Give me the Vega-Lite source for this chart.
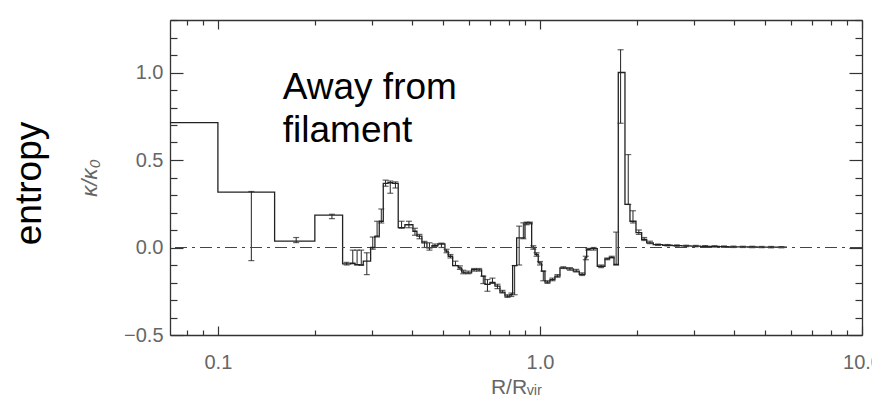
{
  "$schema": "https://vega.github.io/schema/vega-lite/v6.json",
  "width": 692,
  "height": 315,
  "autosize": {"type": "none"},
  "padding": {"left": 170, "top": 20, "right": 10, "bottom": 62},
  "background": "white",
  "config": {
    "view": {"stroke": null},
    "axis": {"grid": false, "domainColor": "#333", "tickColor": "#333", "domainWidth": 1.3, "tickWidth": 1.2, "labelColor": "#666", "labelFont": "Liberation Sans", "labelFontSize": 20, "titleFont": "Liberation Sans", "titleColor": "#666", "titleFontWeight": "normal", "labelOverlap": false, "labelFlush": false, "labelBound": false}
  },
  "title": {"text": "entropy", "orient": "left", "fontSize": 37, "font": "Liberation Sans", "fontWeight": "normal", "color": "#000", "offset": 30, "dx": -6},
  "datasets": {
    "steps": [{"r":0.05,"v":0.714},{"r":0.1,"v":0.316},{"r":0.15,"v":0.036},{"r":0.2,"v":0.185},{"r":0.2439,"v":-0.093},{"r":0.2583,"v":-0.09},{"r":0.2664,"v":-0.098},{"r":0.2747,"v":-0.1},{"r":0.2827,"v":-0.078},{"r":0.298,"v":0.0},{"r":0.3073,"v":0.065},{"r":0.317,"v":0.15},{"r":0.3262,"v":0.366},{"r":0.3373,"v":0.37},{"r":0.3487,"v":0.366},{"r":0.363,"v":0.114},{"r":0.3808,"v":0.13},{"r":0.4033,"v":0.093},{"r":0.415,"v":0.065},{"r":0.43,"v":0.027},{"r":0.4457,"v":-0.002},{"r":0.462,"v":0.011},{"r":0.4823,"v":0.02},{"r":0.5069,"v":-0.021},{"r":0.519,"v":-0.05},{"r":0.5356,"v":-0.103},{"r":0.5575,"v":-0.116},{"r":0.5712,"v":-0.141},{"r":0.5849,"v":-0.145},{"r":0.6135,"v":-0.126},{"r":0.6358,"v":-0.128},{"r":0.659,"v":-0.164},{"r":0.6748,"v":-0.211},{"r":0.6995,"v":-0.2},{"r":0.7249,"v":-0.221},{"r":0.7513,"v":-0.255},{"r":0.7786,"v":-0.278},{"r":0.8069,"v":-0.269},{"r":0.8226,"v":-0.103},{"r":0.8466,"v":0.055},{"r":0.8775,"v":0.055},{"r":0.8985,"v":0.141},{"r":0.9198,"v":0.141},{"r":0.9424,"v":0.0},{"r":0.9649,"v":-0.04},{"r":0.9879,"v":-0.088},{"r":1.0122,"v":-0.135},{"r":1.0364,"v":-0.198},{"r":1.0741,"v":-0.183},{"r":1.1132,"v":-0.164},{"r":1.1538,"v":-0.116},{"r":1.2103,"v":-0.122},{"r":1.2687,"v":-0.135},{"r":1.3243,"v":-0.154},{"r":1.3797,"v":-0.059},{"r":1.3964,"v":-0.011},{"r":1.4299,"v":-0.006},{"r":1.5066,"v":-0.107},{"r":1.5918,"v":-0.065},{"r":1.6438,"v":-0.056},{"r":1.6979,"v":-0.097},{"r":1.7508,"v":1.0},{"r":1.8365,"v":0.246},{"r":1.9033,"v":0.15},{"r":1.987,"v":0.085},{"r":2.0694,"v":0.046},{"r":2.1449,"v":0.027},{"r":2.2485,"v":0.016},{"r":2.405,"v":0.013},{"r":2.573,"v":0.011},{"r":2.752,"v":0.009},{"r":2.944,"v":0.008},{"r":3.149,"v":0.007},{"r":3.369,"v":0.006},{"r":3.604,"v":0.005},{"r":3.855,"v":0.004},{"r":4.124,"v":0.0035},{"r":4.411,"v":0.003},{"r":4.719,"v":0.0025},{"r":5.048,"v":0.002},{"r":5.4,"v":0.0015},{"r":5.848,"v":0.0015}],
    "errs": [{"r":0.127,"lo":-0.075,"hi":0.32},{"r":0.175,"lo":0.028,"hi":0.057},{"r":0.226,"lo":0.165,"hi":0.19},{"r":0.251,"lo":-0.1,"hi":-0.085},{"r":0.2623,"lo":-0.093,"hi":-0.015},{"r":0.2705,"lo":-0.1,"hi":-0.015},{"r":0.2787,"lo":-0.1,"hi":-0.015},{"r":0.29,"lo":-0.155,"hi":-0.03},{"r":0.3026,"lo":-0.01,"hi":0.06},{"r":0.3121,"lo":0.06,"hi":0.15},{"r":0.3216,"lo":0.14,"hi":0.22},{"r":0.3317,"lo":0.35,"hi":0.385},{"r":0.3429,"lo":0.31,"hi":0.38},{"r":0.3558,"lo":0.34,"hi":0.375},{"r":0.3718,"lo":0.11,"hi":0.15},{"r":0.3919,"lo":0.113,"hi":0.15},{"r":0.4091,"lo":0.07,"hi":0.11},{"r":0.4225,"lo":0.05,"hi":0.075},{"r":0.4378,"lo":0.0,"hi":0.035},{"r":0.4538,"lo":-0.015,"hi":0.027},{"r":0.472,"lo":0.005,"hi":0.02},{"r":0.4944,"lo":0.0,"hi":0.025},{"r":0.5129,"lo":-0.03,"hi":-0.01},{"r":0.5272,"lo":-0.06,"hi":-0.04},{"r":0.5465,"lo":-0.103,"hi":-0.078},{"r":0.5643,"lo":-0.125,"hi":-0.105},{"r":0.578,"lo":-0.15,"hi":-0.13},{"r":0.599,"lo":-0.15,"hi":-0.135},{"r":0.6245,"lo":-0.135,"hi":-0.12},{"r":0.6473,"lo":-0.135,"hi":-0.12},{"r":0.6669,"lo":-0.206,"hi":-0.164},{"r":0.687,"lo":-0.25,"hi":-0.183},{"r":0.7121,"lo":-0.205,"hi":-0.175},{"r":0.738,"lo":-0.235,"hi":-0.21},{"r":0.7648,"lo":-0.26,"hi":-0.245},{"r":0.7926,"lo":-0.285,"hi":-0.27},{"r":0.8147,"lo":-0.28,"hi":-0.26},{"r":0.8345,"lo":-0.27,"hi":-0.103},{"r":0.8619,"lo":-0.1,"hi":0.122},{"r":0.8879,"lo":0.05,"hi":0.141},{"r":0.9091,"lo":0.13,"hi":0.145},{"r":0.931,"lo":0.135,"hi":0.145},{"r":0.9536,"lo":-0.01,"hi":0.01},{"r":0.9763,"lo":-0.05,"hi":-0.03},{"r":1.0,"lo":-0.1,"hi":-0.08},{"r":1.0242,"lo":-0.19,"hi":-0.135},{"r":1.0551,"lo":-0.205,"hi":-0.19},{"r":1.0935,"lo":-0.19,"hi":-0.175},{"r":1.1333,"lo":-0.17,"hi":-0.155},{"r":1.1817,"lo":-0.12,"hi":-0.11},{"r":1.2391,"lo":-0.13,"hi":-0.115},{"r":1.2962,"lo":-0.14,"hi":-0.125},{"r":1.3518,"lo":-0.16,"hi":-0.145},{"r":1.388,"lo":-0.07,"hi":-0.05},{"r":1.413,"lo":-0.015,"hi":-0.005},{"r":1.4677,"lo":-0.015,"hi":0.0},{"r":1.5486,"lo":-0.115,"hi":-0.1},{"r":1.6177,"lo":-0.07,"hi":-0.06},{"r":1.6706,"lo":-0.06,"hi":-0.05},{"r":1.7241,"lo":-0.1,"hi":0.088},{"r":1.78,"lo":0.71,"hi":1.13},{"r":1.88,"lo":0.246,"hi":0.531},{"r":1.9447,"lo":0.14,"hi":0.21},{"r":2.0278,"lo":0.075,"hi":0.1},{"r":2.1068,"lo":0.04,"hi":0.057},{"r":2.196,"lo":0.022,"hi":0.036},{"r":2.325,"lo":0.012,"hi":0.02},{"r":2.488,"lo":0.009,"hi":0.017},{"r":2.661,"lo":0.007,"hi":0.015},{"r":2.846,"lo":0.005,"hi":0.013},{"r":3.045,"lo":0.004,"hi":0.012},{"r":3.257,"lo":0.003,"hi":0.011},{"r":3.485,"lo":0.002,"hi":0.01},{"r":3.728,"lo":0.001,"hi":0.009},{"r":3.987,"lo":0.0,"hi":0.008},{"r":4.265,"lo":0.0,"hi":0.007},{"r":4.562,"lo":-0.001,"hi":0.007},{"r":4.881,"lo":-0.001,"hi":0.006},{"r":5.221,"lo":-0.002,"hi":0.006},{"r":5.62,"lo":-0.002,"hi":0.005}],
    "notes": [{"r":0.159,"v":0.846,"label":"Away from\nfilament"}]
  },
  "layer": [
    {
      "data": {"name": "steps"},
      "mark": {"type": "line", "interpolate": "step-after", "color": "#222", "strokeWidth": 1.3, "clip": true},
      "encoding": {
        "x": {"field": "r", "type": "quantitative",
              "scale": {"type": "log", "domain": [0.071, 10], "nice": false},
              "axis": {"orient": "bottom",
                       "values": [0.08,0.09,0.1,0.2,0.3,0.4,0.5,0.6,0.7,0.8,0.9,1,2,3,4,5,6,7,8,9,10],
                       "labelExpr": "datum.value==0.1?'0.1':datum.value==1?'1.0':datum.value==10?'10.0':''",
                       "tickSize": {"condition": {"test": "datum.value==0.1||datum.value==1||datum.value==10", "value": -9}, "value": -5},
                       "labelPadding": 26, "labelBaseline": "top",
                       "title": "R/Rᵥᵢᵣ", "titleFontSize": 21, "titlePadding": 0}},
        "y": {"field": "v", "type": "quantitative",
              "scale": {"domain": [-0.5, 1.3], "nice": false, "zero": false},
              "axis": {"orient": "left",
                       "values": [-0.5,-0.4,-0.3,-0.2,-0.1,0,0.1,0.2,0.3,0.4,0.5,0.6,0.7,0.8,0.9,1,1.1,1.2,1.3],
                       "labelExpr": "datum.value==-0.5?'−0.5':datum.value==0?'0.0':datum.value==0.5?'0.5':datum.value==1?'1.0':''",
                       "tickSize": {"condition": {"test": "datum.value==-0.5||datum.value==0||datum.value==0.5||datum.value==1", "value": -13}, "value": -7},
                       "labelPadding": 20,
                       "title": "κ/κ₀", "titleFontStyle": "italic", "titleFontSize": 22, "titlePadding": 22}}
      }
    },
    {
      "data": {"name": "errs"},
      "mark": {"type": "rule", "color": "#222", "strokeWidth": 1, "clip": true},
      "encoding": {
        "x": {"field": "r", "type": "quantitative",
              "scale": {"type": "log", "domain": [0.071, 10], "nice": false},
              "axis": {"orient": "top", "labels": false, "title": null,
                       "values": [0.08,0.09,0.1,0.2,0.3,0.4,0.5,0.6,0.7,0.8,0.9,1,2,3,4,5,6,7,8,9,10],
                       "tickSize": {"condition": {"test": "datum.value==0.1||datum.value==1||datum.value==10", "value": -9}, "value": -5}}},
        "y": {"field": "lo", "type": "quantitative",
              "scale": {"domain": [-0.5, 1.3], "nice": false, "zero": false},
              "axis": {"orient": "right", "labels": false, "title": null,
                       "values": [-0.5,-0.4,-0.3,-0.2,-0.1,0,0.1,0.2,0.3,0.4,0.5,0.6,0.7,0.8,0.9,1,1.1,1.2,1.3],
                       "tickSize": {"condition": {"test": "datum.value==-0.5||datum.value==0||datum.value==0.5||datum.value==1", "value": -13}, "value": -7}}},
        "y2": {"field": "hi"}
      }
    },
    {
      "data": {"name": "errs"},
      "mark": {"type": "tick", "orient": "horizontal", "color": "#222", "size": 6, "thickness": 1.2, "clip": true},
      "encoding": {
        "x": {"field": "r", "type": "quantitative", "scale": {"type": "log", "domain": [0.071, 10], "nice": false}, "axis": null},
        "y": {"field": "lo", "type": "quantitative", "scale": {"domain": [-0.5, 1.3], "nice": false, "zero": false}, "axis": null}
      }
    },
    {
      "data": {"name": "errs"},
      "mark": {"type": "tick", "orient": "horizontal", "color": "#222", "size": 6, "thickness": 1.2, "clip": true},
      "encoding": {
        "x": {"field": "r", "type": "quantitative", "scale": {"type": "log", "domain": [0.071, 10], "nice": false}, "axis": null},
        "y": {"field": "hi", "type": "quantitative", "scale": {"domain": [-0.5, 1.3], "nice": false, "zero": false}, "axis": null}
      }
    },
    {
      "data": {"name": "notes"},
      "mark": {"type": "rule", "color": "#444", "strokeWidth": 1, "strokeDash": [12, 5, 3, 5]},
      "encoding": {
        "y": {"datum": 0, "type": "quantitative", "scale": {"domain": [-0.5, 1.3], "nice": false, "zero": false}, "axis": null}
      }
    },
    {
      "data": {"name": "notes"},
      "mark": {"type": "text", "align": "left", "baseline": "alphabetic", "font": "Liberation Sans", "fontSize": 37, "lineHeight": 43, "lineBreak": "\n", "color": "#000"},
      "encoding": {
        "x": {"field": "r", "type": "quantitative", "scale": {"type": "log", "domain": [0.071, 10], "nice": false}, "axis": null},
        "y": {"field": "v", "type": "quantitative", "scale": {"domain": [-0.5, 1.3], "nice": false, "zero": false}, "axis": null},
        "text": {"field": "label"}
      }
    }
  ]
}
